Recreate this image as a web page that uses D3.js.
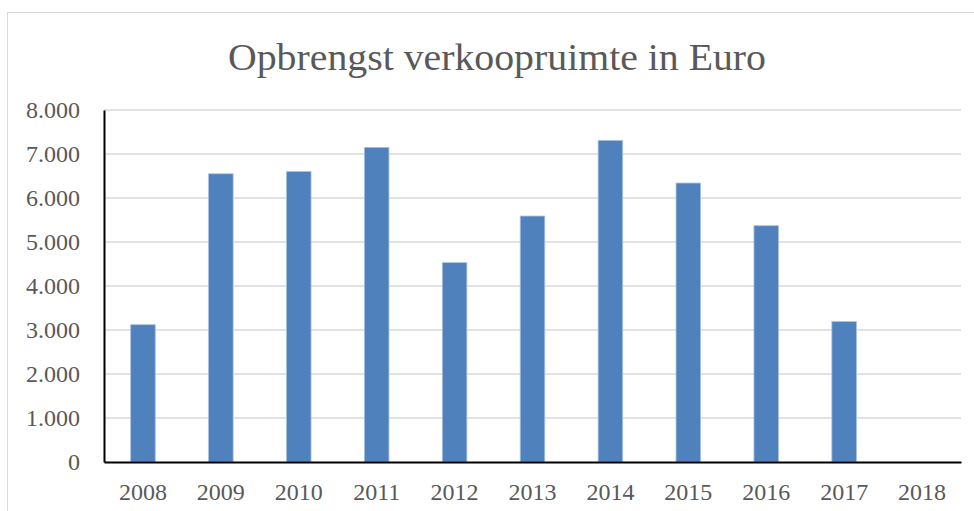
<!DOCTYPE html>
<html>
<head>
<meta charset="utf-8">
<script src="https://cdn.jsdelivr.net/npm/d3@7"></script>
<style>
  body { margin: 0; background: #fff; }
  text { font-family: "Liberation Serif", "DejaVu Serif", serif; fill: #595959; }
</style>
</head>
<body>
<script>
const width = 974;
const height = 511;

// data
const years = ["2008", "2009", "2010", "2011", "2012", "2013", "2014", "2015", "2016", "2017", "2018"];
const revenue = [3120, 6550, 6600, 7150, 4530, 5590, 7310, 6340, 5370, 3190, 0];
const yTicks = [0, 1000, 2000, 3000, 4000, 5000, 6000, 7000, 8000];
const title = "Opbrengst verkoopruimte in Euro";

const margin = { top: 110, right: 13, bottom: 49, left: 104 };

const svg = d3
  .select("body")
  .append("svg")
  .attr("width", width)
  .attr("height", height);

// chart frame
svg
  .append("rect")
  .attr("x", 7.5)
  .attr("y", 12.5)
  .attr("width", width)
  .attr("height", height)
  .attr("fill", "none")
  .attr("stroke", "#d9d9d9")
  .attr("stroke-width", 1);

const x = d3
  .scaleBand()
  .domain(years)
  .range([margin.left, width - margin.right])
  .paddingInner(0.685)
  .paddingOuter(0.3425);

const y = d3
  .scaleLinear()
  .domain([0, 8000])
  .range([height - margin.bottom, margin.top]);

// gridlines
svg
  .append("g")
  .selectAll("line")
  .data(yTicks.filter(d => d > 0))
  .join("line")
  .attr("x1", margin.left)
  .attr("x2", width - margin.right)
  .attr("y1", d => y(d))
  .attr("y2", d => y(d))
  .attr("stroke", "#d9d9d9")
  .attr("stroke-width", 1.3);

// bars
svg
  .append("g")
  .selectAll("rect")
  .data(revenue)
  .join("rect")
  .attr("x", (d, i) => x(years[i]))
  .attr("y", d => y(d))
  .attr("width", x.bandwidth())
  .attr("height", d => y(0) - y(d))
  .attr("fill", "#4f81bd")
  .attr("stroke", "#a7c0de")
  .attr("stroke-width", d => (d > 0 ? 0.8 : 0));

// y axis
const fmt = d => (d === 0 ? "0" : d3.format(",")(d).replace(/,/g, "."));
const yAxis = svg
  .append("g")
  .attr("transform", `translate(${margin.left},0)`)
  .attr("font-size", 24)
  .attr("font-family", null)
  .call(d3.axisLeft(y).tickValues(yTicks).tickFormat(fmt).tickSize(0).tickPadding(24));
yAxis.attr("font-size", 24).attr("font-family", null);
yAxis.select(".domain").attr("stroke", "#000").attr("stroke-width", 2);
yAxis.selectAll("text").attr("fill", "#595959");

// x axis
const xAxis = svg
  .append("g")
  .attr("transform", `translate(0,${y(0)})`)
  .call(d3.axisBottom(x).tickSize(0).tickPadding(21));
xAxis.attr("font-size", 24).attr("font-family", null);
xAxis.select(".domain").attr("stroke", "#000").attr("stroke-width", 2);
xAxis.selectAll("text").attr("fill", "#595959");

// title
svg
  .append("text")
  .attr("x", 497)
  .attr("y", 70)
  .attr("text-anchor", "middle")
  .attr("font-size", 38)
  .attr("textLength", 538)
  .attr("lengthAdjust", "spacingAndGlyphs")
  .text(title);
</script>
</body>
</html>
